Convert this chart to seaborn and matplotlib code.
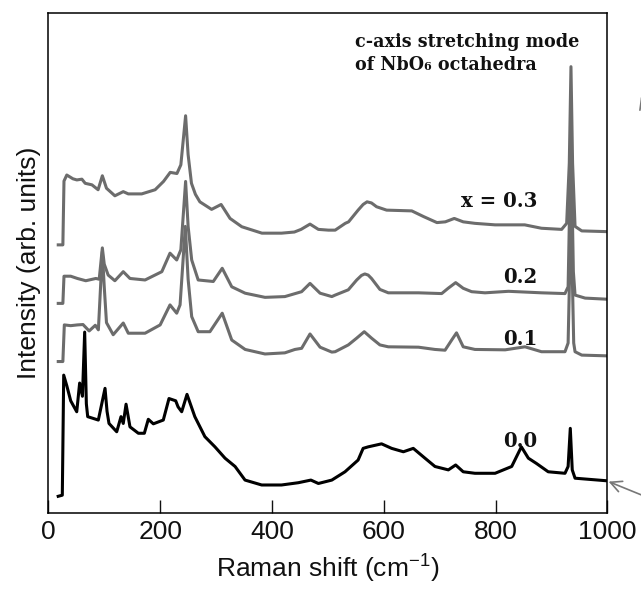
import numpy as np
import pandas as pd
import matplotlib
matplotlib.use("Agg")
import matplotlib.pyplot as plt
import seaborn as sns

# ---------------- data ----------------
# Raman shift (cm^-1) and intensity (arb. units, offset spectra)
shift_03 = [15, 26, 28, 33, 44, 51, 60, 66, 78, 89,
            96.6, 104, 119, 134, 143, 167, 191, 206, 218, 230,
            237, 245.5, 250, 256, 263, 271, 292, 309, 325, 346,
            382, 417, 440, 452, 468, 483, 501, 513, 531, 537,
            554, 563, 570, 578, 587, 605, 650, 671, 695, 710,
            726, 742, 763, 799, 852, 882, 918, 927, 931.7, 934.7,
            937.6, 942, 954, 1000]
inten_03 = [711, 711, 880, 896, 886, 883, 885, 874, 870, 857,
            894, 861, 841, 852, 846, 846, 857, 879, 903, 900,
            923, 1053, 950, 874, 845, 825, 805, 818, 781, 759,
            742, 742, 745, 752, 766, 752, 750, 750, 768, 772,
            803, 818, 825, 822, 812, 803, 801, 786, 770, 772,
            781, 772, 768, 764, 764, 755, 752, 768, 927, 1183,
            927, 760, 748, 746]

shift_02 = [15, 26, 28, 40, 52, 67, 85, 91, 96.6, 100,
            107, 119, 134, 146, 173, 203, 217.6, 229.6, 237, 245.5,
            250, 256.4, 268, 295, 311, 328, 352, 387.5, 423, 453,
            468, 486, 507, 513, 536.5, 551.5, 560, 566, 572, 578,
            593, 608, 662, 703.5, 715, 728.5, 742, 757, 781, 823,
            882, 924, 929.6, 934.7, 939, 942, 960, 1000]
inten_02 = [556, 556, 628, 628, 622, 616, 622, 620, 703, 660,
            631, 616, 640, 622, 618, 640, 689, 671, 698, 879,
            760, 671, 618, 614, 649, 600, 583, 572, 574, 587,
            609, 583, 574, 578, 592, 618, 630, 634, 631, 622,
            593, 584, 584, 582, 596, 611, 596, 587, 584, 588,
            584, 582, 600, 1000, 640, 578, 570, 567]

shift_01 = [15, 26, 28.6, 40, 52, 62, 73, 84, 89.5, 96.6,
            100, 104, 116, 134, 143, 173, 200, 217.6, 229.6, 235.6,
            245, 250, 256.4, 268, 289, 311, 328, 352, 387.5, 423,
            441, 453, 468, 486, 507, 513, 536.5, 551.5, 565, 578,
            593, 608, 662, 691.5, 709.5, 721.4, 730, 742, 763, 817,
            852.5, 882, 924, 929.6, 934.7, 939.6, 942, 954, 1000]
inten_01 = [402, 402, 499, 497, 499, 500, 483, 498, 486, 693,
            600, 505, 473, 504, 477, 477, 499, 552, 530, 552,
            760, 620, 521, 481, 481, 530, 459, 434, 422, 425,
            434, 437, 475, 440, 427, 428, 446, 464, 481, 464,
            446, 441, 440, 434, 432, 459, 478, 441, 434, 433,
            441, 428, 428, 451, 800, 451, 428, 419, 417]

shift_00 = [15, 25, 27.5, 33, 40, 50.8, 56, 61, 65, 68,
            70.4, 89.4, 101.4, 105, 108.5, 122.3, 130, 134, 139, 146,
            161, 171.7, 178.8, 187.8, 205.6, 215.8, 227.8, 232, 238.5, 248,
            262, 280, 298, 316, 334, 351.8, 381.6, 417, 447, 469.6,
            483, 507, 530.6, 554, 563, 572, 596, 614, 635, 652.7,
            673.6, 691.5, 715.4, 728.5, 742, 763, 799, 828.7, 846, 858.5,
            873, 894, 924, 929.6, 933.5, 937, 942, 1000]
inten_00 = [44, 48, 366, 338, 298, 269, 345, 310, 480, 290,
            256, 247, 331, 270, 238, 216, 256, 238, 289, 229,
            212, 212, 249, 237, 247, 304, 298, 282, 269, 315,
            256, 203, 176, 146, 124, 88, 75, 75, 81, 88,
            79, 88, 110, 141, 172, 176, 184, 172, 163, 172,
            146, 124, 115, 128, 110, 106, 106, 124, 176, 146,
            132, 110, 106, 124, 225, 115, 93, 86]

compositions = ["0.3", "0.2", "0.1", "0.0"]
series_labels = ["x = 0.3", "0.2", "0.1", "0.0"]
xtick_values = [0, 200, 400, 600, 800, 1000]

# ---------------- build table ----------------
frames = []
for comp, xs, ys in zip(compositions,
                        [shift_03, shift_02, shift_01, shift_00],
                        [inten_03, inten_02, inten_01, inten_00]):
    frames.append(pd.DataFrame({"shift": xs, "intensity": ys, "x": comp}))
df = pd.concat(frames, ignore_index=True)

# ---------------- style ----------------
sns.set_theme(style="white")
plt.rcParams["font.family"] = ["Liberation Sans", "DejaVu Sans"]
plt.rcParams["axes.edgecolor"] = "black"
plt.rcParams["text.color"] = "#111111"
plt.rcParams["axes.labelcolor"] = "#111111"
plt.rcParams["xtick.color"] = "#111111"

fig = plt.figure(figsize=(6.41, 5.95), dpi=100)
ax = fig.add_axes([0.0754, 0.1373, 0.8723, 0.8414])

grey = "#6c6c6c"
palette = {"0.3": grey, "0.2": grey, "0.1": grey, "0.0": "#000000"}

sns.lineplot(data=df, x="shift", y="intensity", hue="x",
             hue_order=compositions, palette=palette,
             estimator=None, sort=False, legend=False,
             linewidth=2.2, ax=ax)
for ln in ax.get_lines():
    ln.set_solid_joinstyle("round")
    ln.set_solid_capstyle("butt")

ax.set_xlim(0, 1000)
ax.set_ylim(0, 1326)
ax.set_xticks(xtick_values)
ax.set_xticklabels([str(v) for v in xtick_values])
ax.set_yticks([])
ax.tick_params(axis="x", direction="in", length=9.5, width=1.0,
               labelsize=19, pad=5, bottom=True, top=False)
for sp in ax.spines.values():
    sp.set_visible(True)
    sp.set_color("black")
    sp.set_linewidth(1.1)

ax.set_xlabel(r"Raman shift (cm$^{\mathregular{-1}}$)", fontsize=19, labelpad=5)
ax.set_ylabel("Intensity (arb. units)", fontsize=19, labelpad=5)

# ---------------- labels on curves ----------------
label_font = dict(family=["DejaVu Serif"], weight="bold")
label_y = [812, 610, 446, 176]
for lab, yb in zip(series_labels, label_y):
    ax.text(874, yb, lab, ha="right", va="baseline", fontsize=14.2,
            color="#111111", **label_font)

note_font = dict(family=["DejaVu Serif"], weight="bold", stretch="condensed")
ax.text(548.5, 1236, "c-axis stretching mode", ha="left", va="baseline",
        fontsize=14.0, color="#111111", **note_font)
ax.text(548.5, 1174, "of NbO\u2086 octahedra", ha="left", va="baseline",
        fontsize=14.0, color="#111111", **note_font)

# ---------------- arrows coming from outside (partially visible) ----------------
ax.annotate("", xy=(1002, 84), xytext=(1075, 40), xycoords="data",
            textcoords="data", annotation_clip=False,
            arrowprops=dict(arrowstyle="->", color="#777777", lw=1.2,
                            mutation_scale=20, shrinkA=0, shrinkB=0))
ax.annotate("", xy=(1060, 1105), xytext=(1100, 930), xycoords="data",
            textcoords="data", annotation_clip=False,
            arrowprops=dict(arrowstyle="->", color="#777777", lw=1.2,
                            mutation_scale=20, shrinkA=0, shrinkB=0))

fig.savefig("out.png", dpi=100)
